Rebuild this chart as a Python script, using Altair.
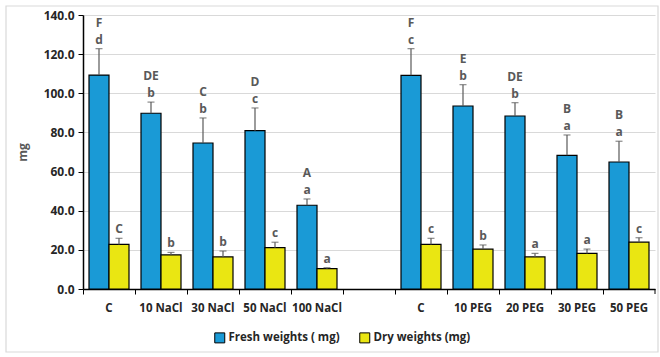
import altair as alt
import pandas as pd

# Treatments along the x axis (a blank slot separates the NaCl and PEG groups)
slots = ["C_nacl", "10 NaCl", "30 NaCl", "50 NaCl", "100 NaCl", "gap",
         "C_peg", "10 PEG", "20 PEG", "30 PEG", "50 PEG"]
slot_labels = ["C", "10 NaCl", "30 NaCl", "50 NaCl", "100 NaCl", "",
               "C", "10 PEG", "20 PEG", "30 PEG", "50 PEG"]
treatments = [s for s in slots if s != "gap"]

series = ["Fresh weights  ( mg)", "Dry weights (mg)"]
y_ticks = [0, 20, 40, 60, 80, 100, 120, 140]

# Means and upper ends of the error bars (mg)
fresh_mean = [109.3, 89.8, 74.6, 80.9, 42.8, 109.2, 93.5, 88.4, 68.3, 64.9]
fresh_err = [122.8, 95.5, 87.4, 92.5, 46.0, 122.8, 104.4, 95.2, 78.7, 75.5]
dry_mean = [22.8, 17.4, 16.4, 21.1, 10.4, 22.8, 20.4, 16.4, 18.2, 23.9]
dry_err = [25.9, 18.7, 19.4, 23.9, 10.9, 25.9, 22.5, 18.2, 20.4, 26.2]

# Significance letters
fresh_upper = ["F", "DE", "C", "D", "A", "F", "E", "DE", "B", "B"]
fresh_lower = ["d", "b", "b", "c", "a", "c", "b", "b", "a", "a"]
dry_letters = ["C", "b", "b", "c", "a", "c", "b", "a", "a", "c"]

rows = []
for i, t in enumerate(treatments):
    rows.append(dict(slot=t, series=series[0], mean=fresh_mean[i], err=fresh_err[i],
                     upper=fresh_upper[i], lower=fresh_lower[i]))
    rows.append(dict(slot=t, series=series[1], mean=dry_mean[i], err=dry_err[i],
                     upper="", lower=dry_letters[i]))
df = pd.DataFrame(rows)

FONT = "Open Sans"
label_map = "{" + ", ".join(f"'{k}': '{v}'" for k, v in zip(slots, slot_labels)) + "}"

x_axis = alt.Axis(
    title=None, labelAngle=0, bandPosition=0, tickSize=5, tickColor="#000000",
    domainColor="#000000", domainWidth=1.5, labelFont=FONT, labelFontSize=11.5,
    labelFontWeight="bold", labelColor="#262626", labelPadding=8,
    labelOverlap=False, labelExpr=f"{label_map}[datum.value]", grid=False,
)
y_axis = alt.Axis(
    title="mg", titleFont=FONT, titleFontSize=12, titleFontWeight="bold",
    titleColor="#595959", titlePadding=14, values=y_ticks,
    format=".1f", labelFont=FONT, labelFontSize=12, labelFontWeight="bold",
    labelColor="#262626", labelOverlap=False, tickSize=5, tickColor="#000000",
    domainColor="#000000", domainWidth=1.5, gridColor="#D9D9D9",
    gridWidth=1.2, labelPadding=4,
)
x_scale = alt.Scale(domain=slots, paddingInner=0, paddingOuter=0)
y_scale = alt.Scale(domain=[0, 140], nice=False)


def xenc():
    return alt.X("slot:N", sort=slots, scale=x_scale, axis=x_axis)


def yenc(field):
    return alt.Y(f"{field}:Q", scale=y_scale, axis=y_axis)


xoff = alt.XOffset("series:N", sort=series,
                   scale=alt.Scale(domain=series, paddingInner=0, paddingOuter=0.3))

color = alt.Color(
    "series:N", sort=series,
    scale=alt.Scale(domain=series, range=["#1A9AD6", "#EAE612"]),
    legend=alt.Legend(
        title=None, orient="none", legendX=131, legendY=317, direction="horizontal",
        symbolType="square", symbolSize=100, symbolStrokeColor="#000000",
        symbolStrokeWidth=1, labelFont=FONT, labelFontSize=11.5, labelFontWeight="bold",
        labelColor="#262626", columnPadding=14, symbolOffset=0, labelOffset=3,
    ),
)

base = alt.Chart(df)

bars = base.mark_bar(stroke="#000000", strokeWidth=1.2).encode(
    x=xenc(), xOffset=xoff, y=yenc("mean"), color=color,
)
whisker = base.mark_rule(color="#595959", strokeWidth=1.2).encode(
    x=xenc(), xOffset=xoff, y=yenc("mean"), y2="err:Q",
)
caps = base.mark_tick(color="#595959", size=7, thickness=1.2, orient="horizontal").encode(
    x=xenc(), xOffset=xoff, y=yenc("err"),
)

text_style = dict(font=FONT, fontSize=12, fontWeight="bold", color="#595959",
                  baseline="middle", align="center")
lower_txt = base.mark_text(dy=-9, **text_style).encode(
    x=xenc(), xOffset=xoff, y=yenc("err"), text="lower:N",
)
upper_txt = base.mark_text(dy=-26, **text_style).encode(
    x=xenc(), xOffset=xoff, y=yenc("err"), text="upper:N",
)

# closing tick at the right end of the category axis
end_tick = alt.Chart(pd.DataFrame({"k": [0]})).mark_rule(color="#000000").encode(
    x=alt.value(572), y=alt.value(274), y2=alt.value(279),
)
# light frame around the whole figure
frame = alt.Chart(pd.DataFrame({"k": [0]})).mark_rect(
    fill=None, stroke="#D9D9D9", strokeWidth=1.2
).encode(
    x=alt.value(-77), x2=alt.value(575), y=alt.value(-9), y2=alt.value(337),
)

chart = alt.layer(bars, frame, whisker, caps, lower_txt, upper_txt, end_tick).properties(
    width=572, height=274,
    padding={"left": 83, "top": 15, "right": 5, "bottom": 68},
    autosize=alt.AutoSizeParams(type="none"),
    background="#FFFFFF",
).configure_view(stroke=None)

chart.save("out.html", embed_options={"renderer": "svg", "actions": False})
